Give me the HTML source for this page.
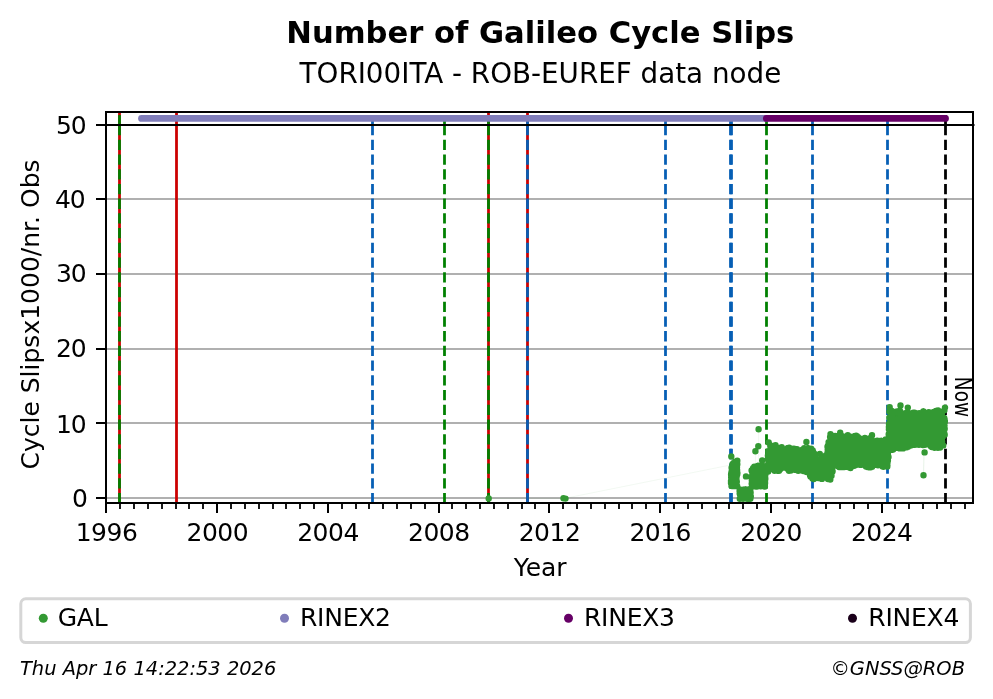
<!DOCTYPE html>
<html lang="en"><head><meta charset="utf-8"><title>Number of Galileo Cycle Slips</title>
<style>html,body{margin:0;padding:0;background:#fff}svg{display:block}</style></head>
<body>
<svg width="993" height="699" viewBox="0 0 993 699">
<rect width="993" height="699" fill="#fff"/>
<g stroke="#b0b0b0" stroke-width="2">
<line x1="106.0" x2="973.0" y1="498.0" y2="498.0"/>
<line x1="106.0" x2="973.0" y1="423.0" y2="423.0"/>
<line x1="106.0" x2="973.0" y1="349.0" y2="349.0"/>
<line x1="106.0" x2="973.0" y1="274.0" y2="274.0"/>
<line x1="106.0" x2="973.0" y1="199.0" y2="199.0"/>
<line x1="106.0" x2="973.0" y1="125.0" y2="125.0"/>
</g>
<line x1="119.5" x2="119.5" y1="503.3" y2="112.0" stroke="#cc0000" stroke-width="2.78"/>
<line x1="119.5" x2="119.5" y1="503.3" y2="125" stroke="#008000" stroke-width="2.78" stroke-dasharray="10.28 4.44"/>
<line x1="119.5" x2="119.5" y1="125.5" y2="115.1" stroke="#008000" stroke-width="2.78"/>
<line x1="176.5" x2="176.5" y1="503.3" y2="112.0" stroke="#cc0000" stroke-width="2.78"/>
<line x1="372.5" x2="372.5" y1="503.3" y2="125" stroke="#065fb5" stroke-width="2.78" stroke-dasharray="10.28 4.44"/>
<line x1="372.5" x2="372.5" y1="125.5" y2="115.1" stroke="#065fb5" stroke-width="2.78"/>
<line x1="444.5" x2="444.5" y1="503.3" y2="125" stroke="#008000" stroke-width="2.78" stroke-dasharray="10.28 4.44"/>
<line x1="444.5" x2="444.5" y1="125.5" y2="115.1" stroke="#008000" stroke-width="2.78"/>
<line x1="488.5" x2="488.5" y1="503.3" y2="112.0" stroke="#cc0000" stroke-width="2.78"/>
<line x1="488.5" x2="488.5" y1="503.3" y2="125" stroke="#008000" stroke-width="2.78" stroke-dasharray="10.28 4.44"/>
<line x1="488.5" x2="488.5" y1="125.5" y2="115.1" stroke="#008000" stroke-width="2.78"/>
<line x1="527.5" x2="527.5" y1="503.3" y2="112.0" stroke="#cc0000" stroke-width="2.78"/>
<line x1="527.5" x2="527.5" y1="503.3" y2="125" stroke="#065fb5" stroke-width="2.78" stroke-dasharray="10.28 4.44"/>
<line x1="527.5" x2="527.5" y1="125.5" y2="115.1" stroke="#065fb5" stroke-width="2.78"/>
<line x1="665.5" x2="665.5" y1="503.3" y2="125" stroke="#065fb5" stroke-width="2.78" stroke-dasharray="10.28 4.44"/>
<line x1="665.5" x2="665.5" y1="125.5" y2="115.1" stroke="#065fb5" stroke-width="2.78"/>
<line x1="730.5" x2="730.5" y1="503.3" y2="125" stroke="#065fb5" stroke-width="2.78" stroke-dasharray="10.28 4.44"/>
<line x1="730.5" x2="730.5" y1="125.5" y2="115.1" stroke="#065fb5" stroke-width="2.78"/>
<line x1="731.5" x2="731.5" y1="503.3" y2="125" stroke="#065fb5" stroke-width="2.78" stroke-dasharray="10.28 4.44"/>
<line x1="731.5" x2="731.5" y1="125.5" y2="115.1" stroke="#065fb5" stroke-width="2.78"/>
<line x1="766.5" x2="766.5" y1="503.3" y2="125" stroke="#008000" stroke-width="2.78" stroke-dasharray="10.28 4.44"/>
<line x1="766.5" x2="766.5" y1="125.5" y2="115.1" stroke="#008000" stroke-width="2.78"/>
<line x1="812.5" x2="812.5" y1="503.3" y2="125" stroke="#065fb5" stroke-width="2.78" stroke-dasharray="10.28 4.44"/>
<line x1="812.5" x2="812.5" y1="125.5" y2="115.1" stroke="#065fb5" stroke-width="2.78"/>
<line x1="887.5" x2="887.5" y1="503.3" y2="125" stroke="#065fb5" stroke-width="2.78" stroke-dasharray="10.28 4.44"/>
<line x1="887.5" x2="887.5" y1="125.5" y2="115.1" stroke="#065fb5" stroke-width="2.78"/>
<line x1="945.5" x2="945.5" y1="503.3" y2="125" stroke="#000" stroke-width="2.78" stroke-dasharray="10.28 4.44"/>
<line x1="945.5" x2="945.5" y1="125.5" y2="115.1" stroke="#000" stroke-width="2.78"/>
<line x1="106.0" x2="974.5" y1="125.0" y2="125.0" stroke="#000" stroke-width="2"/>
<g stroke="#339933" stroke-width="1" opacity="0.06" fill="none">
<polyline points="488.7,498.4 564.5,498.4 729,465.3"/>
<polyline points="758.6,429.3 758.6,470"/><polyline points="755.4,451 755.4,470"/>
<polyline points="924.6,440 924.6,452.4 923.5,475.2 923.5,440"/>
</g>
<polygon points="731.0,468.2 731.2,468.0 731.3,467.9 731.5,467.7 731.6,467.6 731.8,467.4 732.0,467.2 732.1,467.1 732.3,466.9 732.4,466.8 732.6,466.6 732.8,466.4 732.9,466.3 733.1,466.1 733.2,466.0 733.4,465.8 733.6,465.6 733.7,465.5 733.9,465.3 734.0,465.2 734.2,465.1 734.4,465.0 734.5,464.9 734.7,464.8 734.8,464.7 735.0,464.6 735.2,464.6 735.3,464.5 735.5,464.4 735.6,464.3 735.8,464.2 736.0,464.1 736.1,464.0 736.3,463.9 736.4,463.8 736.6,463.7 736.8,463.7 736.9,463.6 737.1,463.5 737.2,463.4 737.4,463.3 737.4,483.5 737.2,483.5 737.1,483.5 736.9,483.5 736.8,483.5 736.6,483.5 736.4,483.5 736.3,483.5 736.1,483.5 736.0,483.5 735.8,483.5 735.6,483.5 735.5,483.5 735.3,483.5 735.2,483.5 735.0,483.5 734.8,483.5 734.7,483.5 734.5,483.5 734.4,483.5 734.2,483.5 734.0,483.5 733.9,483.5 733.7,483.5 733.6,483.5 733.4,483.5 733.2,483.5 733.1,483.5 732.9,483.5 732.8,483.5 732.6,483.5 732.4,483.5 732.3,483.5 732.1,483.5 732.0,483.5 731.8,483.5 731.6,483.5 731.5,483.5 731.3,483.5 731.2,483.5 731.0,483.5" fill="#339933"/>
<polygon points="739.6,491.5 739.9,491.5 740.2,491.5 740.4,491.5 740.7,491.5 741.0,491.5 741.3,491.5 741.6,491.5 741.8,491.5 742.1,491.5 742.4,491.5 742.7,491.5 743.0,491.5 743.2,491.5 743.5,491.5 743.8,491.5 744.1,491.5 744.4,491.5 744.6,491.5 744.9,491.5 745.2,491.5 745.5,491.5 745.8,491.5 746.0,491.5 746.3,491.5 746.6,491.5 746.9,491.5 747.2,491.5 747.4,491.5 747.7,491.5 748.0,491.5 748.3,491.5 748.6,491.5 748.8,491.5 749.1,491.5 749.4,491.5 749.7,491.5 750.0,491.5 750.2,491.5 750.5,491.5 750.8,491.5 750.8,496.9 750.5,496.9 750.2,496.9 750.0,496.9 749.7,496.9 749.4,496.9 749.1,496.9 748.8,496.9 748.6,496.9 748.3,496.9 748.0,496.9 747.7,496.9 747.4,496.9 747.2,496.9 746.9,496.9 746.6,496.9 746.3,496.9 746.0,496.9 745.8,496.9 745.5,496.9 745.2,496.9 744.9,496.9 744.6,496.9 744.4,496.9 744.1,496.9 743.8,496.9 743.5,496.9 743.2,496.9 743.0,496.9 742.7,496.9 742.4,496.9 742.1,496.9 741.8,496.9 741.6,496.9 741.3,496.9 741.0,496.9 740.7,496.9 740.4,496.9 740.2,496.9 739.9,496.9 739.6,496.9" fill="#339933"/>
<polygon points="751.5,472.7 751.9,472.2 752.2,471.8 752.6,471.3 752.9,470.8 753.3,470.3 753.6,469.9 754.0,469.4 754.3,468.9 754.7,468.7 755.0,468.6 755.4,468.6 755.7,468.5 756.1,468.5 756.4,468.4 756.8,468.4 757.1,468.3 757.5,468.3 757.8,468.2 758.2,468.2 758.5,468.2 758.9,468.1 759.3,468.1 759.6,468.0 760.0,468.0 760.3,467.9 760.7,467.9 761.0,467.8 761.4,467.8 761.7,467.7 762.1,467.7 762.4,467.6 762.8,467.6 763.1,467.5 763.5,467.5 763.8,467.4 764.2,467.4 764.5,467.3 764.9,467.3 765.2,467.2 765.6,467.2 765.6,484.1 765.2,484.1 764.9,484.1 764.5,484.1 764.2,484.1 763.8,484.1 763.5,484.1 763.1,484.1 762.8,484.1 762.4,484.1 762.1,484.1 761.7,484.1 761.4,484.1 761.0,484.1 760.7,484.1 760.3,484.1 760.0,484.1 759.6,484.1 759.3,484.1 758.9,484.1 758.5,484.1 758.2,484.1 757.8,484.1 757.5,484.1 757.1,484.1 756.8,484.1 756.4,484.1 756.1,484.1 755.7,484.1 755.4,484.1 755.0,484.1 754.7,484.1 754.3,484.1 754.0,484.1 753.6,484.1 753.3,484.1 752.9,484.1 752.6,484.1 752.2,484.1 751.9,484.1 751.5,484.1" fill="#339933"/>
<polygon points="767.8,448.2 770.8,448.7 773.8,448.1 776.9,448.3 779.9,449.7 782.9,449.3 785.9,448.9 788.9,449.9 792.0,450.9 795.0,451.2 798.0,451.5 801.0,450.0 804.0,450.1 807.1,450.5 810.1,451.2 813.1,454.0 816.1,458.0 819.1,458.2 822.2,459.8 825.2,457.0 828.2,446.6 831.2,439.8 834.2,438.9 837.3,438.3 840.3,437.7 843.3,437.5 846.3,437.2 849.3,439.0 852.4,439.0 855.4,438.3 858.4,438.7 861.4,439.3 864.4,440.4 867.5,441.3 870.5,440.9 873.5,441.5 876.5,443.0 879.5,443.5 882.6,442.6 885.6,440.7 888.6,440.7 888.6,463.8 885.6,464.1 882.6,464.0 879.5,463.7 876.5,463.4 873.5,464.0 870.5,464.6 867.5,464.5 864.4,463.0 861.4,462.4 858.4,461.9 855.4,462.6 852.4,463.6 849.3,464.3 846.3,464.2 843.3,464.2 840.3,464.2 837.3,464.6 834.2,465.5 831.2,474.1 828.2,477.8 825.2,478.6 822.2,476.7 819.1,475.4 816.1,476.1 813.1,476.4 810.1,473.4 807.1,470.4 804.0,468.9 801.0,467.5 798.0,468.4 795.0,468.8 792.0,468.3 788.9,468.3 785.9,468.5 782.9,468.6 779.9,468.4 776.9,468.3 773.8,468.4 770.8,468.7 767.8,469.0" fill="#339933"/>
<polygon points="888.6,415.8 890.0,413.7 891.4,414.0 892.8,414.3 894.2,414.5 895.6,414.6 897.0,414.3 898.5,414.0 899.9,413.7 901.3,414.0 902.7,414.2 904.1,414.5 905.5,414.8 906.9,415.2 908.3,415.5 909.7,415.8 911.1,416.2 912.5,416.0 913.9,415.0 915.3,413.9 916.8,413.3 918.2,413.5 919.6,413.6 921.0,413.8 922.4,414.0 923.8,414.3 925.2,414.5 926.6,414.7 928.0,414.9 929.4,415.2 930.8,415.4 932.2,415.4 933.6,414.9 935.0,414.3 936.5,413.8 937.9,413.5 939.3,413.2 940.7,413.0 942.1,413.1 943.5,413.1 944.9,413.2 944.9,443.4 943.5,444.0 942.1,444.2 940.7,444.4 939.3,444.7 937.9,444.8 936.5,444.8 935.0,444.8 933.6,444.8 932.2,444.5 930.8,443.5 929.4,442.4 928.0,441.6 926.6,441.8 925.2,441.9 923.8,442.1 922.4,442.2 921.0,442.2 919.6,442.0 918.2,441.9 916.8,441.7 915.3,441.8 913.9,442.1 912.5,442.4 911.1,442.7 909.7,443.1 908.3,443.8 906.9,444.6 905.5,445.3 904.1,446.0 902.7,445.8 901.3,445.6 899.9,445.4 898.5,445.2 897.0,445.0 895.6,444.8 894.2,445.7 892.8,446.5 891.4,447.3 890.0,447.3 888.6,447.3" fill="#339933"/>
<path d="M731.0 481.0h0M731.0 483.0h0M731.1 474.4h0M731.2 477.4h0M731.2 473.6h0M731.2 476.7h0M731.3 477.2h0M731.3 472.9h0M731.4 483.4h0M731.4 473.0h0M731.5 485.9h0M731.5 479.2h0M731.6 479.6h0M731.6 479.2h0M731.6 467.7h0M731.7 471.1h0M731.8 477.5h0M731.8 476.3h0M731.9 470.4h0M731.9 477.8h0M731.9 471.9h0M732.0 486.0h0M732.0 468.3h0M732.1 471.7h0M732.1 471.0h0M732.1 486.0h0M732.2 475.4h0M732.3 471.5h0M732.3 469.8h0M732.4 465.5h0M732.4 471.2h0M732.4 484.5h0M732.5 464.2h0M732.6 478.5h0M732.6 473.9h0M732.6 473.0h0M732.7 486.0h0M732.7 474.5h0M732.8 474.3h0M732.8 473.7h0M732.8 476.7h0M732.9 476.5h0M732.9 475.0h0M733.0 481.6h0M733.0 466.7h0M733.1 477.5h0M733.1 478.4h0M733.2 470.6h0M733.2 486.0h0M733.2 463.4h0M733.3 475.3h0M733.4 479.7h0M733.4 474.6h0M733.4 475.3h0M733.5 463.2h0M733.5 467.6h0M733.6 466.8h0M733.6 467.5h0M733.7 477.2h0M733.7 462.9h0M733.8 471.8h0M733.8 476.4h0M733.8 478.8h0M733.9 476.4h0M733.9 474.5h0M734.0 474.4h0M734.0 473.3h0M734.1 475.5h0M734.1 477.5h0M734.2 478.7h0M734.2 484.2h0M734.3 484.0h0M734.3 471.2h0M734.3 474.6h0M734.4 473.0h0M734.4 486.1h0M734.5 482.6h0M734.5 471.5h0M734.6 482.9h0M734.7 475.7h0M734.7 472.3h0M734.7 468.8h0M734.8 475.4h0M734.8 465.3h0M734.9 476.3h0M734.9 486.1h0M735.0 478.7h0M735.0 462.0h0M735.0 467.3h0M735.1 473.3h0M735.1 473.0h0M735.2 479.6h0M735.2 461.9h0M735.3 479.6h0M735.3 470.6h0M735.4 477.9h0M735.4 476.9h0M735.5 483.8h0M735.5 463.3h0M735.6 475.3h0M735.6 465.3h0M735.7 461.7h0M735.7 469.3h0M735.7 474.5h0M735.8 480.1h0M735.8 461.6h0M735.9 485.1h0M735.9 469.9h0M735.9 483.2h0M736.0 486.1h0M736.0 483.5h0M736.1 461.4h0M736.1 470.0h0M736.2 472.5h0M736.3 468.3h0M736.3 466.3h0M736.3 483.5h0M736.4 463.5h0M736.4 472.2h0M736.5 479.1h0M736.5 470.1h0M736.6 475.6h0M736.6 463.9h0M736.7 476.2h0M736.7 481.4h0M736.7 469.1h0M736.8 481.7h0M736.8 474.5h0M736.9 475.0h0M736.9 469.1h0M737.0 467.1h0M737.0 471.1h0M737.1 474.3h0M737.1 469.9h0M737.1 471.2h0M737.2 486.2h0M737.2 474.5h0M737.3 460.7h0M737.3 464.2h0M737.4 473.1h0M739.6 491.1h0M739.7 493.5h0M739.8 498.8h0M739.8 489.6h0M739.9 498.8h0M740.0 492.3h0M740.0 493.2h0M740.1 494.6h0M740.2 491.8h0M740.3 489.9h0M740.3 493.3h0M740.4 490.2h0M740.5 496.1h0M740.6 493.8h0M740.6 489.6h0M740.7 494.9h0M740.8 491.1h0M740.8 495.6h0M740.9 492.3h0M741.0 498.3h0M741.1 493.7h0M741.1 494.4h0M741.2 493.2h0M741.3 494.1h0M741.4 495.5h0M741.4 494.0h0M741.5 494.6h0M741.5 492.0h0M741.6 498.6h0M741.7 491.5h0M741.8 497.4h0M741.9 492.4h0M741.9 498.2h0M742.0 495.7h0M742.0 497.9h0M742.2 492.7h0M742.2 494.8h0M742.3 493.4h0M742.4 492.3h0M742.5 497.2h0M742.5 496.6h0M742.6 496.7h0M742.6 494.7h0M742.7 495.0h0M742.8 492.6h0M742.9 498.6h0M742.9 495.3h0M743.0 496.5h0M743.1 498.7h0M743.2 494.6h0M743.2 489.6h0M743.3 495.2h0M743.4 491.2h0M743.5 495.6h0M743.5 489.9h0M743.6 494.0h0M743.6 496.4h0M743.7 490.4h0M743.8 493.7h0M743.8 495.0h0M743.9 494.1h0M744.0 492.1h0M744.1 497.3h0M744.2 489.6h0M744.2 494.3h0M744.3 496.5h0M744.3 492.1h0M744.5 494.9h0M744.6 492.2h0M744.6 493.6h0M744.6 494.1h0M744.7 494.3h0M744.8 492.3h0M744.9 494.2h0M744.9 494.1h0M745.0 495.4h0M745.1 496.6h0M745.1 494.5h0M745.2 489.6h0M745.3 493.3h0M745.4 496.2h0M745.4 492.3h0M745.6 496.9h0M745.6 497.8h0M745.6 497.2h0M745.7 489.6h0M745.8 494.8h0M745.9 492.8h0M746.0 496.8h0M746.0 489.8h0M746.1 497.5h0M746.2 491.6h0M746.2 495.7h0M746.3 494.5h0M746.4 496.0h0M746.5 491.1h0M746.5 492.8h0M746.6 491.3h0M746.7 494.2h0M746.7 490.9h0M746.8 498.4h0M746.9 496.0h0M746.9 493.8h0M747.0 498.7h0M747.1 497.4h0M747.2 493.7h0M747.2 492.3h0M747.3 489.8h0M747.4 495.6h0M747.4 494.9h0M747.6 493.0h0M747.6 497.6h0M747.6 493.7h0M747.8 498.4h0M747.8 493.3h0M747.9 497.5h0M748.0 498.6h0M748.0 498.2h0M748.1 494.7h0M748.2 494.0h0M748.3 497.2h0M748.3 493.6h0M748.4 496.0h0M748.5 493.6h0M748.5 489.6h0M748.6 493.2h0M748.7 489.6h0M748.8 493.9h0M748.8 496.8h0M748.9 492.3h0M748.9 491.1h0M749.0 494.4h0M749.1 492.8h0M749.2 496.2h0M749.2 494.2h0M749.3 489.6h0M749.4 492.8h0M749.5 489.6h0M749.5 489.6h0M749.6 498.8h0M749.7 492.2h0M749.7 495.2h0M749.8 495.4h0M749.9 492.2h0M750.0 493.9h0M750.0 497.5h0M750.1 498.8h0M750.2 492.6h0M750.3 498.8h0M750.3 490.8h0M750.4 498.5h0M750.5 495.6h0M750.6 492.8h0M750.6 492.4h0M750.7 496.4h0M750.8 496.5h0M751.5 477.5h0M751.6 470.4h0M751.7 476.5h0M751.7 483.8h0M751.8 479.9h0M751.9 480.9h0M751.9 480.0h0M752.0 486.3h0M752.0 480.0h0M752.1 480.4h0M752.1 480.9h0M752.2 479.8h0M752.3 484.0h0M752.3 472.6h0M752.4 473.1h0M752.5 477.0h0M752.5 475.5h0M752.6 486.3h0M752.7 470.8h0M752.7 470.3h0M752.8 477.6h0M752.8 482.6h0M752.9 483.5h0M752.9 469.0h0M753.0 474.7h0M753.1 468.3h0M753.2 482.5h0M753.3 477.2h0M753.3 485.8h0M753.3 468.0h0M753.4 480.8h0M753.5 482.4h0M753.6 475.7h0M753.6 469.3h0M753.7 475.5h0M753.7 476.4h0M753.8 483.8h0M753.8 473.0h0M753.9 476.7h0M754.0 484.6h0M754.0 482.8h0M754.1 479.6h0M754.2 477.9h0M754.2 484.1h0M754.3 466.6h0M754.4 480.0h0M754.4 472.3h0M754.5 477.1h0M754.6 475.0h0M754.6 471.7h0M754.7 473.6h0M754.7 471.0h0M754.8 480.1h0M754.8 474.5h0M754.9 468.7h0M755.0 480.6h0M755.1 475.9h0M755.1 469.5h0M755.2 472.3h0M755.2 486.3h0M755.3 476.7h0M755.4 471.5h0M755.4 477.9h0M755.5 480.1h0M755.6 479.4h0M755.6 475.3h0M755.6 479.5h0M755.7 475.8h0M755.8 466.6h0M755.9 484.0h0M755.9 486.5h0M756.0 476.1h0M756.0 485.2h0M756.1 472.5h0M756.2 472.2h0M756.2 480.2h0M756.3 481.0h0M756.3 476.4h0M756.4 486.5h0M756.5 486.5h0M756.5 481.0h0M756.6 466.5h0M756.6 470.7h0M756.8 477.2h0M756.8 468.0h0M756.8 485.6h0M756.9 480.0h0M757.0 467.0h0M757.0 486.5h0M757.1 481.3h0M757.2 480.5h0M757.2 473.0h0M757.3 472.8h0M757.4 473.1h0M757.4 476.1h0M757.5 476.7h0M757.6 466.8h0M757.6 465.9h0M757.7 465.9h0M757.8 478.5h0M757.8 476.1h0M757.9 482.4h0M758.0 480.5h0M758.0 485.9h0M758.1 477.3h0M758.1 468.2h0M758.2 469.5h0M758.2 484.0h0M758.3 476.2h0M758.3 471.7h0M758.4 471.2h0M758.5 474.4h0M758.6 480.8h0M758.6 475.8h0M758.7 466.8h0M758.7 476.2h0M758.8 469.0h0M758.9 480.2h0M758.9 481.1h0M759.0 468.9h0M759.1 474.0h0M759.1 483.5h0M759.2 477.5h0M759.2 480.3h0M759.3 481.9h0M759.4 470.9h0M759.4 483.1h0M759.5 475.7h0M759.6 465.6h0M759.6 465.6h0M759.7 480.9h0M759.8 465.7h0M759.8 475.2h0M759.8 478.9h0M760.0 465.6h0M760.0 469.1h0M760.1 471.6h0M760.1 477.5h0M760.2 482.4h0M760.2 481.0h0M760.3 473.8h0M760.3 478.4h0M760.4 468.9h0M760.5 470.9h0M760.5 471.8h0M760.6 484.0h0M760.7 479.1h0M760.7 486.2h0M760.8 480.8h0M760.9 479.6h0M760.9 479.0h0M761.0 477.9h0M761.1 474.9h0M761.1 481.0h0M761.2 470.8h0M761.2 473.6h0M761.3 481.7h0M761.4 475.8h0M761.4 476.1h0M761.5 476.6h0M761.6 478.6h0M761.6 470.3h0M761.7 476.5h0M761.7 476.8h0M761.8 478.1h0M761.9 474.5h0M761.9 472.5h0M762.0 475.8h0M762.1 478.5h0M762.1 474.6h0M762.2 479.8h0M762.2 475.0h0M762.3 482.8h0M762.3 474.8h0M762.5 465.8h0M762.5 484.4h0M762.6 481.6h0M762.6 484.9h0M762.7 482.4h0M762.7 466.4h0M762.8 469.9h0M762.9 480.2h0M762.9 476.0h0M763.0 485.6h0M763.0 466.3h0M763.1 471.9h0M763.2 481.9h0M763.3 481.4h0M763.3 473.6h0M763.4 481.8h0M763.4 472.2h0M763.5 470.2h0M763.5 470.6h0M763.6 471.0h0M763.7 477.1h0M763.7 469.1h0M763.8 478.3h0M763.9 477.8h0M763.9 468.9h0M764.0 478.4h0M764.1 484.5h0M764.1 480.7h0M764.2 482.6h0M764.2 478.2h0M764.3 483.7h0M764.4 484.9h0M764.5 477.3h0M764.5 472.0h0M764.6 486.5h0M764.6 472.0h0M764.7 477.8h0M764.7 474.7h0M764.8 482.8h0M764.9 486.5h0M765.0 480.2h0M765.0 481.4h0M765.0 475.1h0M765.1 483.0h0M765.2 477.2h0M765.3 479.0h0M765.3 478.7h0M765.4 473.4h0M765.4 467.0h0M765.5 474.0h0M765.6 467.9h0M767.9 455.6h0M767.9 468.2h0M768.0 458.2h0M768.1 456.7h0M768.2 471.5h0M768.2 459.3h0M768.3 451.3h0M768.4 470.6h0M768.5 462.4h0M768.6 467.5h0M768.7 457.7h0M768.7 460.4h0M768.8 458.7h0M768.9 451.3h0M769.0 462.0h0M769.1 460.0h0M769.1 468.3h0M769.2 456.7h0M769.3 461.2h0M769.4 450.9h0M769.5 454.2h0M769.6 455.1h0M769.7 459.2h0M769.7 460.4h0M769.9 461.1h0M770.0 460.0h0M770.0 452.1h0M770.1 453.4h0M770.2 451.9h0M770.3 446.1h0M770.4 464.1h0M770.4 460.3h0M770.5 457.5h0M770.6 458.9h0M770.7 461.0h0M770.7 446.2h0M770.8 453.8h0M770.9 452.6h0M771.0 453.8h0M771.1 461.3h0M771.2 463.7h0M771.2 467.5h0M771.4 451.3h0M771.4 464.7h0M771.5 449.6h0M771.6 454.1h0M771.6 460.0h0M771.7 464.4h0M771.9 460.0h0M771.9 464.4h0M772.0 449.9h0M772.1 447.8h0M772.2 463.1h0M772.2 447.8h0M772.3 445.9h0M772.5 463.6h0M772.5 458.9h0M772.6 468.7h0M772.7 454.7h0M772.8 456.1h0M772.9 462.7h0M772.9 454.9h0M773.1 449.2h0M773.1 463.8h0M773.2 449.7h0M773.3 457.0h0M773.3 449.8h0M773.4 456.4h0M773.5 456.4h0M773.6 461.4h0M773.7 458.8h0M773.7 459.3h0M773.8 459.5h0M773.9 451.4h0M774.0 450.5h0M774.1 452.9h0M774.2 454.8h0M774.3 460.1h0M774.4 456.6h0M774.5 461.1h0M774.5 457.1h0M774.6 470.8h0M774.7 460.9h0M774.8 462.4h0M774.8 449.7h0M774.9 467.3h0M775.0 464.6h0M775.1 456.8h0M775.2 458.7h0M775.2 456.7h0M775.3 451.7h0M775.5 445.2h0M775.5 457.7h0M775.6 451.8h0M775.7 461.7h0M775.7 455.6h0M775.8 450.0h0M776.0 468.4h0M776.0 464.7h0M776.1 461.4h0M776.2 468.9h0M776.2 450.4h0M776.4 458.6h0M776.4 452.0h0M776.5 458.4h0M776.6 463.2h0M776.7 456.3h0M776.8 455.1h0M776.9 458.3h0M776.9 460.7h0M777.0 448.5h0M777.1 454.3h0M777.2 463.6h0M777.3 470.1h0M777.3 465.4h0M777.4 457.3h0M777.5 470.8h0M777.6 462.0h0M777.7 455.3h0M777.8 458.8h0M777.9 447.8h0M777.9 456.8h0M778.0 461.9h0M778.1 458.4h0M778.2 454.7h0M778.3 455.7h0M778.3 457.1h0M778.5 459.0h0M778.5 462.8h0M778.6 460.8h0M778.7 455.7h0M778.7 455.2h0M778.8 465.6h0M778.9 465.2h0M779.0 470.8h0M779.1 461.7h0M779.2 458.2h0M779.3 461.8h0M779.3 449.2h0M779.4 457.0h0M779.5 456.7h0M779.6 465.1h0M779.7 460.4h0M779.8 450.3h0M779.8 459.0h0M779.9 454.1h0M780.0 455.3h0M780.1 451.9h0M780.2 462.6h0M780.3 460.5h0M780.4 468.9h0M780.5 455.5h0M780.5 447.8h0M780.6 454.1h0M780.7 460.7h0M780.7 449.8h0M780.9 464.4h0M780.9 459.2h0M781.0 465.6h0M781.1 451.3h0M781.2 464.1h0M781.2 453.0h0M781.3 450.2h0M781.4 460.8h0M781.5 458.8h0M781.6 462.0h0M781.7 447.2h0M781.7 452.1h0M781.9 455.5h0M781.9 451.5h0M782.0 450.0h0M782.1 463.1h0M782.2 457.6h0M782.3 459.3h0M782.4 455.8h0M782.4 463.7h0M782.5 460.7h0M782.6 453.2h0M782.7 462.2h0M782.8 458.5h0M782.9 463.5h0M783.0 454.5h0M783.0 458.2h0M783.1 459.7h0M783.2 462.2h0M783.3 454.1h0M783.4 453.5h0M783.4 464.7h0M783.5 457.5h0M783.6 461.8h0M783.7 452.3h0M783.8 467.4h0M783.8 467.5h0M784.0 458.1h0M784.0 465.0h0M784.1 459.0h0M784.2 459.2h0M784.2 458.9h0M784.3 464.2h0M784.4 452.6h0M784.5 451.5h0M784.6 460.1h0M784.7 456.9h0M784.8 459.4h0M784.9 455.2h0M784.9 459.6h0M785.1 458.7h0M785.1 458.6h0M785.2 461.6h0M785.2 459.6h0M785.3 452.7h0M785.5 459.7h0M785.5 454.9h0M785.6 460.5h0M785.7 449.3h0M785.8 461.0h0M785.9 455.1h0M785.9 458.4h0M786.0 451.8h0M786.1 458.3h0M786.2 463.4h0M786.3 465.5h0M786.3 461.3h0M786.4 450.8h0M786.5 458.9h0M786.6 462.7h0M786.7 452.8h0M786.8 462.1h0M786.8 453.7h0M787.0 466.9h0M787.0 463.0h0M787.1 451.5h0M787.2 452.8h0M787.3 466.4h0M787.3 458.1h0M787.5 468.7h0M787.5 461.0h0M787.6 462.8h0M787.7 454.4h0M787.8 459.5h0M787.8 454.7h0M787.9 448.0h0M788.0 455.1h0M788.1 453.0h0M788.2 463.2h0M788.3 467.9h0M788.4 457.7h0M788.4 456.9h0M788.5 463.8h0M788.6 459.5h0M788.7 457.4h0M788.8 457.2h0M788.8 458.6h0M788.9 464.2h0M789.0 470.7h0M789.1 462.4h0M789.2 447.6h0M789.3 452.6h0M789.4 452.5h0M789.4 461.3h0M789.5 467.9h0M789.6 462.3h0M789.6 461.5h0M789.8 466.8h0M789.8 454.8h0M790.0 461.0h0M790.0 451.8h0M790.1 454.7h0M790.2 461.8h0M790.3 461.2h0M790.4 458.5h0M790.4 467.3h0M790.5 466.7h0M790.6 458.4h0M790.7 459.7h0M790.8 470.6h0M790.8 453.1h0M790.9 466.2h0M791.0 464.5h0M791.1 460.0h0M791.2 459.5h0M791.2 461.9h0M791.4 459.0h0M791.4 468.7h0M791.5 460.5h0M791.6 460.2h0M791.7 461.3h0M791.8 465.3h0M791.8 452.1h0M791.9 457.9h0M792.1 453.3h0M792.1 468.6h0M792.1 457.5h0M792.2 453.3h0M792.3 450.9h0M792.4 459.2h0M792.5 456.2h0M792.6 464.9h0M792.7 461.7h0M792.8 458.2h0M792.9 456.8h0M792.9 454.7h0M793.0 453.2h0M793.1 462.9h0M793.2 448.6h0M793.3 459.2h0M793.4 461.8h0M793.5 462.2h0M793.5 455.2h0M793.6 463.7h0M793.7 452.9h0M793.8 464.2h0M793.9 456.2h0M793.9 468.3h0M794.0 453.4h0M794.1 459.4h0M794.2 466.0h0M794.3 461.2h0M794.4 458.8h0M794.5 465.1h0M794.5 454.3h0M794.6 463.1h0M794.7 451.6h0M794.8 466.4h0M794.9 463.8h0M794.9 460.0h0M795.0 448.9h0M795.1 457.2h0M795.2 454.1h0M795.2 460.1h0M795.3 449.7h0M795.4 463.6h0M795.5 450.6h0M795.6 469.9h0M795.7 452.7h0M795.8 456.9h0M795.8 458.1h0M795.9 458.5h0M796.0 454.8h0M796.1 456.9h0M796.1 459.8h0M796.3 458.2h0M796.4 462.2h0M796.5 464.6h0M796.5 466.7h0M796.6 461.7h0M796.7 460.3h0M796.8 452.6h0M796.8 460.8h0M797.0 449.1h0M797.0 466.4h0M797.1 464.4h0M797.1 459.1h0M797.2 461.1h0M797.3 462.3h0M797.4 464.4h0M797.6 455.5h0M797.6 467.1h0M797.7 463.1h0M797.7 464.3h0M797.9 458.9h0M797.9 468.1h0M798.0 457.6h0M798.1 467.8h0M798.2 470.7h0M798.2 464.1h0M798.3 460.8h0M798.5 468.7h0M798.5 453.6h0M798.6 457.6h0M798.7 451.6h0M798.7 465.5h0M798.9 467.1h0M799.0 457.2h0M799.0 466.8h0M799.1 457.5h0M799.2 463.4h0M799.3 461.5h0M799.3 463.1h0M799.5 468.4h0M799.5 460.0h0M799.6 462.9h0M799.7 457.4h0M799.8 461.6h0M799.9 457.1h0M799.9 469.1h0M800.0 454.3h0M800.1 453.3h0M800.2 468.1h0M800.3 461.5h0M800.3 462.2h0M800.5 455.8h0M800.6 457.8h0M800.6 456.0h0M800.7 460.6h0M800.8 457.0h0M800.9 461.8h0M800.9 461.1h0M801.1 457.1h0M801.1 465.6h0M801.2 453.4h0M801.3 457.8h0M801.3 463.2h0M801.4 470.0h0M801.6 457.7h0M801.6 455.8h0M801.7 470.2h0M801.8 454.5h0M801.8 470.2h0M802.0 457.2h0M802.0 461.7h0M802.1 455.2h0M802.2 458.4h0M802.3 460.6h0M802.3 466.8h0M802.4 460.3h0M802.5 449.7h0M802.6 466.2h0M802.7 463.5h0M802.8 461.5h0M802.9 467.3h0M803.0 455.7h0M803.0 457.2h0M803.1 451.1h0M803.2 464.6h0M803.3 453.3h0M803.4 469.5h0M803.4 471.1h0M803.5 460.7h0M803.6 459.0h0M803.7 463.4h0M803.8 462.5h0M803.9 464.6h0M803.9 452.8h0M804.0 458.7h0M804.1 457.0h0M804.2 448.3h0M804.3 458.1h0M804.4 453.7h0M804.4 470.5h0M804.5 448.5h0M804.6 452.0h0M804.7 458.2h0M804.8 460.4h0M804.8 463.7h0M804.9 460.4h0M805.0 458.4h0M805.1 460.2h0M805.2 461.0h0M805.3 450.0h0M805.3 458.4h0M805.5 459.5h0M805.5 458.0h0M805.6 454.7h0M805.7 459.9h0M805.8 465.6h0M805.9 466.6h0M805.9 450.4h0M806.0 455.3h0M806.1 466.1h0M806.2 457.7h0M806.3 453.7h0M806.4 459.2h0M806.5 457.7h0M806.5 464.4h0M806.6 472.0h0M806.7 458.9h0M806.8 461.6h0M806.9 458.6h0M807.0 465.0h0M807.0 458.4h0M807.1 455.1h0M807.2 466.6h0M807.3 459.2h0M807.3 460.5h0M807.5 463.3h0M807.5 448.1h0M807.6 471.1h0M807.7 451.6h0M807.8 459.9h0M807.8 471.0h0M807.9 469.3h0M808.0 456.7h0M808.1 448.2h0M808.2 467.8h0M808.3 459.1h0M808.4 458.4h0M808.5 455.9h0M808.5 460.8h0M808.6 463.5h0M808.7 464.2h0M808.8 456.7h0M808.8 464.7h0M808.9 448.8h0M809.0 457.8h0M809.1 458.9h0M809.2 457.9h0M809.3 452.5h0M809.4 458.9h0M809.4 462.1h0M809.5 466.9h0M809.6 461.0h0M809.7 461.5h0M809.8 462.8h0M809.9 471.2h0M809.9 468.2h0M810.0 461.8h0M810.1 475.6h0M810.2 468.3h0M810.2 456.4h0M810.4 467.5h0M810.4 465.3h0M810.5 476.4h0M810.6 459.0h0M810.7 468.5h0M810.8 470.7h0M810.9 451.7h0M811.0 462.3h0M811.0 450.4h0M811.1 458.7h0M811.2 448.8h0M811.3 475.8h0M811.4 463.4h0M811.4 472.6h0M811.5 460.9h0M811.6 470.4h0M811.7 455.9h0M811.8 451.6h0M811.8 466.5h0M811.9 456.4h0M812.0 461.0h0M812.1 468.9h0M812.2 456.7h0M812.3 462.5h0M812.4 468.0h0M812.5 478.4h0M812.5 473.1h0M812.6 474.3h0M812.7 450.5h0M812.8 465.6h0M812.8 464.2h0M812.9 451.1h0M813.0 465.4h0M813.1 474.0h0M813.2 465.2h0M813.3 460.2h0M813.4 469.9h0M813.4 475.9h0M813.5 462.4h0M813.6 460.8h0M813.7 471.0h0M813.8 479.1h0M813.9 453.8h0M813.9 453.1h0M814.0 453.2h0M814.1 468.0h0M814.2 462.6h0M814.3 470.1h0M814.3 459.4h0M814.5 462.1h0M814.6 455.5h0M814.6 463.5h0M814.7 468.6h0M814.8 462.8h0M814.8 466.8h0M815.0 462.4h0M815.1 463.6h0M815.1 473.2h0M815.2 468.8h0M815.3 466.9h0M815.3 466.6h0M815.5 459.3h0M815.5 462.4h0M815.6 462.6h0M815.7 465.5h0M815.8 475.0h0M815.9 466.9h0M815.9 472.7h0M816.0 475.6h0M816.1 470.6h0M816.2 473.5h0M816.3 467.8h0M816.3 465.0h0M816.5 462.8h0M816.5 475.6h0M816.6 466.7h0M816.7 469.7h0M816.8 463.2h0M816.9 472.3h0M816.9 473.1h0M817.1 462.0h0M817.1 463.7h0M817.2 463.9h0M817.3 470.1h0M817.4 462.8h0M817.5 464.3h0M817.6 474.5h0M817.6 471.1h0M817.7 465.5h0M817.8 467.8h0M817.9 471.9h0M817.9 468.0h0M818.0 462.6h0M818.1 472.9h0M818.2 478.0h0M818.3 472.3h0M818.4 471.6h0M818.4 469.6h0M818.6 468.0h0M818.6 466.9h0M818.7 470.6h0M818.8 475.2h0M818.8 468.7h0M818.9 466.1h0M819.0 464.3h0M819.1 471.1h0M819.2 471.2h0M819.3 469.6h0M819.4 471.3h0M819.4 470.5h0M819.6 465.7h0M819.6 467.6h0M819.7 472.9h0M819.8 465.9h0M819.9 477.6h0M819.9 467.0h0M820.0 474.7h0M820.1 471.8h0M820.2 471.7h0M820.3 467.8h0M820.4 461.5h0M820.5 465.0h0M820.5 472.4h0M820.6 470.2h0M820.7 463.3h0M820.7 462.3h0M820.9 465.3h0M820.9 471.9h0M821.0 469.5h0M821.1 466.6h0M821.2 463.1h0M821.3 469.5h0M821.4 456.9h0M821.4 467.5h0M821.5 469.2h0M821.6 464.4h0M821.7 472.7h0M821.8 468.1h0M821.9 478.9h0M822.0 469.3h0M822.1 470.7h0M822.1 467.9h0M822.2 466.7h0M822.3 469.9h0M822.4 473.0h0M822.4 465.4h0M822.5 476.0h0M822.6 460.4h0M822.7 464.7h0M822.8 466.5h0M822.8 463.9h0M823.0 469.5h0M823.0 464.1h0M823.1 467.2h0M823.2 467.5h0M823.2 469.6h0M823.4 464.6h0M823.5 476.4h0M823.5 473.3h0M823.6 470.8h0M823.7 464.0h0M823.8 456.5h0M823.9 475.0h0M824.0 472.6h0M824.0 460.5h0M824.1 466.1h0M824.2 461.8h0M824.3 475.8h0M824.3 476.1h0M824.5 469.9h0M824.5 463.2h0M824.7 462.6h0M824.7 461.6h0M824.7 463.6h0M824.8 473.4h0M824.9 475.0h0M825.0 476.1h0M825.1 468.3h0M825.2 476.3h0M825.3 464.2h0M825.4 472.6h0M825.4 461.8h0M825.6 465.1h0M825.6 467.9h0M825.7 463.1h0M825.8 455.4h0M825.9 470.6h0M825.9 465.8h0M826.0 474.4h0M826.1 466.5h0M826.2 472.2h0M826.3 472.2h0M826.4 471.3h0M826.4 468.1h0M826.5 469.1h0M826.7 466.1h0M826.7 462.5h0M826.8 462.0h0M826.9 464.0h0M826.9 469.2h0M827.0 475.1h0M827.2 457.3h0M827.2 454.9h0M827.3 464.4h0M827.3 471.0h0M827.4 466.8h0M827.5 446.8h0M827.6 452.3h0M827.7 449.6h0M827.8 467.1h0M827.9 445.6h0M827.9 469.9h0M828.0 479.0h0M828.1 453.6h0M828.2 459.1h0M828.3 474.3h0M828.4 465.0h0M828.5 455.5h0M828.6 442.1h0M828.6 455.3h0M828.7 461.1h0M828.8 474.6h0M828.8 468.4h0M828.9 465.0h0M829.0 459.6h0M829.1 466.3h0M829.2 475.9h0M829.3 471.4h0M829.4 444.8h0M829.4 452.7h0M829.5 448.2h0M829.6 444.2h0M829.7 465.1h0M829.8 463.5h0M829.9 466.7h0M830.0 454.2h0M830.0 464.4h0M830.1 437.0h0M830.2 465.6h0M830.3 479.5h0M830.4 453.6h0M830.5 473.8h0M830.5 464.3h0M830.6 436.8h0M830.7 446.1h0M830.8 454.9h0M830.9 467.4h0M830.9 463.9h0M831.0 472.6h0M831.1 451.7h0M831.2 448.3h0M831.3 443.4h0M831.4 454.1h0M831.4 465.8h0M831.5 475.8h0M831.6 461.2h0M831.7 450.0h0M831.8 455.5h0M831.9 466.9h0M831.9 451.0h0M832.0 453.0h0M832.1 463.4h0M832.2 459.5h0M832.3 462.3h0M832.4 445.3h0M832.5 471.5h0M832.6 471.1h0M832.6 458.1h0M832.7 445.7h0M832.8 439.2h0M832.8 447.3h0M833.0 458.7h0M833.0 454.9h0M833.1 447.7h0M833.2 449.2h0M833.3 436.6h0M833.4 460.4h0M833.5 436.4h0M833.6 445.1h0M833.6 452.2h0M833.7 444.6h0M833.8 454.3h0M833.9 448.5h0M834.0 465.1h0M834.0 447.9h0M834.1 460.9h0M834.2 458.4h0M834.3 463.5h0M834.3 446.5h0M834.4 436.9h0M834.5 457.4h0M834.6 456.2h0M834.7 452.6h0M834.8 445.5h0M834.9 449.7h0M834.9 462.6h0M835.0 465.5h0M835.1 459.3h0M835.2 436.0h0M835.3 457.7h0M835.4 460.0h0M835.5 457.1h0M835.6 453.1h0M835.6 444.4h0M835.7 457.8h0M835.8 438.4h0M835.9 462.4h0M835.9 449.0h0M836.1 456.9h0M836.1 456.7h0M836.2 453.1h0M836.3 444.3h0M836.4 447.8h0M836.4 445.0h0M836.5 448.0h0M836.6 454.2h0M836.7 451.4h0M836.8 450.6h0M836.9 458.2h0M836.9 442.2h0M837.1 447.2h0M837.2 462.0h0M837.2 453.8h0M837.3 453.2h0M837.4 439.7h0M837.4 448.5h0M837.6 466.0h0M837.7 448.4h0M837.7 444.9h0M837.8 439.5h0M837.9 450.6h0M838.0 448.8h0M838.0 452.9h0M838.1 460.8h0M838.2 450.5h0M838.3 451.9h0M838.3 458.9h0M838.4 457.5h0M838.5 444.5h0M838.6 449.5h0M838.7 455.9h0M838.8 446.3h0M838.9 463.6h0M839.0 440.9h0M839.0 467.0h0M839.1 455.8h0M839.2 461.0h0M839.3 452.4h0M839.4 442.3h0M839.4 435.1h0M839.5 452.8h0M839.6 456.0h0M839.7 451.7h0M839.8 452.7h0M839.8 459.3h0M840.0 459.0h0M840.0 441.8h0M840.1 462.1h0M840.2 448.3h0M840.3 456.4h0M840.3 445.5h0M840.4 434.9h0M840.6 447.0h0M840.7 452.7h0M840.7 458.2h0M840.8 440.4h0M840.9 458.1h0M840.9 448.7h0M841.0 452.2h0M841.1 439.5h0M841.2 451.3h0M841.3 467.0h0M841.4 452.5h0M841.5 461.9h0M841.6 454.9h0M841.6 455.0h0M841.7 453.6h0M841.8 464.0h0M841.9 459.2h0M842.0 441.7h0M842.1 445.2h0M842.1 444.1h0M842.2 463.0h0M842.3 452.1h0M842.4 436.3h0M842.5 460.1h0M842.5 449.5h0M842.6 455.1h0M842.7 449.2h0M842.8 442.6h0M842.9 438.7h0M843.0 452.8h0M843.0 465.0h0M843.1 452.8h0M843.2 453.1h0M843.3 459.2h0M843.4 467.0h0M843.4 456.9h0M843.6 463.3h0M843.6 465.3h0M843.7 453.5h0M843.8 438.7h0M843.9 450.9h0M844.0 443.5h0M844.1 452.7h0M844.1 450.5h0M844.2 447.7h0M844.3 452.8h0M844.4 448.5h0M844.4 467.0h0M844.6 440.8h0M844.6 450.7h0M844.7 457.4h0M844.8 454.9h0M844.9 464.5h0M844.9 456.7h0M845.0 450.5h0M845.1 462.0h0M845.2 437.7h0M845.3 453.8h0M845.4 444.5h0M845.5 454.7h0M845.6 447.5h0M845.6 440.0h0M845.7 454.0h0M845.8 456.8h0M845.9 445.3h0M846.0 457.8h0M846.1 466.3h0M846.1 454.8h0M846.2 451.4h0M846.2 454.9h0M846.4 448.1h0M846.4 457.1h0M846.5 462.1h0M846.6 462.6h0M846.7 444.2h0M846.8 456.9h0M846.9 452.1h0M847.0 460.7h0M847.0 453.3h0M847.1 452.3h0M847.2 452.0h0M847.3 454.1h0M847.4 448.0h0M847.4 446.3h0M847.6 453.3h0M847.6 450.3h0M847.7 441.2h0M847.8 435.2h0M847.9 451.6h0M847.9 467.0h0M848.1 447.7h0M848.1 454.1h0M848.2 457.1h0M848.3 442.8h0M848.4 450.9h0M848.4 463.9h0M848.6 452.2h0M848.6 439.4h0M848.7 447.7h0M848.8 449.8h0M848.9 443.4h0M849.0 459.5h0M849.0 450.2h0M849.1 467.0h0M849.2 467.0h0M849.3 457.2h0M849.4 448.9h0M849.4 452.0h0M849.5 457.0h0M849.7 455.4h0M849.7 436.5h0M849.8 446.6h0M849.9 462.1h0M849.9 452.2h0M850.1 451.8h0M850.2 441.3h0M850.3 451.2h0M850.3 442.9h0M850.4 442.5h0M850.5 444.4h0M850.6 458.0h0M850.6 447.1h0M850.7 461.9h0M850.8 447.2h0M850.9 447.8h0M851.0 450.1h0M851.0 442.4h0M851.1 463.1h0M851.2 465.8h0M851.3 437.5h0M851.4 449.2h0M851.4 455.5h0M851.6 443.7h0M851.7 464.1h0M851.7 441.8h0M851.8 458.7h0M851.8 438.8h0M851.9 451.4h0M852.0 455.1h0M852.2 442.8h0M852.2 450.2h0M852.3 463.5h0M852.4 451.1h0M852.5 455.3h0M852.5 438.5h0M852.6 444.8h0M852.7 458.3h0M852.8 447.0h0M852.8 457.7h0M852.9 448.6h0M853.0 449.9h0M853.1 449.9h0M853.2 457.9h0M853.3 460.4h0M853.4 457.0h0M853.4 438.5h0M853.6 457.4h0M853.6 459.1h0M853.7 453.1h0M853.8 448.5h0M853.9 458.5h0M854.0 446.0h0M854.1 456.9h0M854.2 458.2h0M854.2 465.7h0M854.3 447.0h0M854.3 444.5h0M854.5 443.5h0M854.5 457.2h0M854.7 450.6h0M854.7 448.7h0M854.8 435.9h0M854.9 454.0h0M855.0 457.0h0M855.0 445.1h0M855.1 455.7h0M855.2 440.1h0M855.3 461.8h0M855.4 453.4h0M855.5 450.9h0M855.5 446.6h0M855.6 451.9h0M855.7 447.1h0M855.8 448.0h0M855.9 449.4h0M856.0 447.8h0M856.1 450.6h0M856.1 435.8h0M856.2 436.7h0M856.3 454.5h0M856.4 455.8h0M856.4 456.4h0M856.5 449.9h0M856.6 449.8h0M856.7 464.7h0M856.8 448.1h0M856.9 451.4h0M857.0 455.0h0M857.0 436.2h0M857.1 459.1h0M857.2 453.2h0M857.3 440.3h0M857.4 450.9h0M857.5 455.4h0M857.6 464.4h0M857.6 446.6h0M857.7 458.7h0M857.8 447.6h0M857.9 455.6h0M857.9 446.9h0M858.1 437.2h0M858.1 457.7h0M858.2 447.1h0M858.3 440.5h0M858.3 454.6h0M858.5 459.4h0M858.5 454.7h0M858.7 437.9h0M858.7 445.3h0M858.8 447.5h0M858.9 444.8h0M859.0 460.6h0M859.0 463.7h0M859.1 461.3h0M859.3 457.8h0M859.3 447.3h0M859.4 445.6h0M859.5 451.9h0M859.6 452.6h0M859.6 453.7h0M859.7 445.1h0M859.8 446.5h0M859.9 459.2h0M860.0 444.1h0M860.0 463.4h0M860.2 458.0h0M860.2 449.6h0M860.3 447.2h0M860.4 446.5h0M860.4 438.8h0M860.5 453.3h0M860.6 461.2h0M860.7 459.9h0M860.8 464.9h0M860.9 450.2h0M860.9 443.5h0M861.0 460.9h0M861.2 457.9h0M861.2 455.5h0M861.3 447.7h0M861.4 450.0h0M861.4 462.1h0M861.5 441.9h0M861.7 460.7h0M861.8 452.9h0M861.8 461.1h0M861.8 447.2h0M862.0 445.6h0M862.1 452.7h0M862.1 452.5h0M862.2 445.0h0M862.3 458.8h0M862.4 456.4h0M862.5 449.2h0M862.5 451.6h0M862.6 448.8h0M862.7 448.0h0M862.8 443.5h0M862.9 458.9h0M862.9 457.4h0M863.1 448.9h0M863.2 447.1h0M863.2 451.8h0M863.3 457.7h0M863.4 457.1h0M863.4 447.1h0M863.6 452.3h0M863.6 448.1h0M863.7 455.0h0M863.8 455.2h0M863.9 455.4h0M864.0 452.5h0M864.1 450.8h0M864.1 454.0h0M864.2 442.4h0M864.3 451.6h0M864.4 447.5h0M864.4 444.8h0M864.5 457.3h0M864.7 460.1h0M864.7 456.7h0M864.8 454.3h0M864.8 440.6h0M864.9 438.0h0M865.0 439.8h0M865.1 447.2h0M865.2 439.5h0M865.3 438.2h0M865.3 456.0h0M865.5 445.8h0M865.5 456.1h0M865.6 451.1h0M865.7 441.2h0M865.8 455.4h0M865.9 456.1h0M866.0 466.4h0M866.1 448.6h0M866.1 439.7h0M866.2 452.7h0M866.3 449.3h0M866.4 448.9h0M866.5 453.4h0M866.6 449.5h0M866.6 462.7h0M866.7 466.7h0M866.8 461.9h0M866.9 463.2h0M867.0 452.4h0M867.1 438.9h0M867.1 440.1h0M867.2 458.4h0M867.3 447.1h0M867.4 467.1h0M867.5 467.1h0M867.6 466.0h0M867.6 455.8h0M867.7 448.3h0M867.8 453.7h0M867.9 461.8h0M868.0 451.1h0M868.1 445.7h0M868.2 445.6h0M868.2 438.6h0M868.3 462.5h0M868.4 458.9h0M868.5 441.0h0M868.6 444.9h0M868.6 451.7h0M868.7 453.2h0M868.8 443.9h0M868.9 458.1h0M869.0 454.6h0M869.1 460.0h0M869.1 452.1h0M869.2 456.1h0M869.3 442.4h0M869.4 456.9h0M869.4 452.0h0M869.6 450.9h0M869.6 450.3h0M869.7 467.4h0M869.8 460.9h0M869.9 446.2h0M870.0 438.3h0M870.1 452.9h0M870.2 458.1h0M870.2 466.2h0M870.3 457.5h0M870.4 452.8h0M870.5 454.9h0M870.5 447.4h0M870.6 438.4h0M870.7 447.8h0M870.8 467.2h0M870.9 445.7h0M870.9 446.8h0M871.1 446.9h0M871.1 446.9h0M871.2 443.5h0M871.3 445.2h0M871.4 438.1h0M871.5 455.2h0M871.6 452.2h0M871.6 444.8h0M871.7 449.6h0M871.8 450.8h0M871.8 440.0h0M872.0 464.8h0M872.1 466.7h0M872.1 444.0h0M872.2 447.3h0M872.3 452.4h0M872.4 441.8h0M872.5 450.2h0M872.5 461.7h0M872.7 444.6h0M872.7 441.8h0M872.8 464.0h0M872.9 450.0h0M872.9 457.7h0M873.1 460.9h0M873.2 450.4h0M873.2 456.0h0M873.3 459.0h0M873.4 462.9h0M873.5 458.5h0M873.5 454.8h0M873.7 457.3h0M873.7 451.7h0M873.8 454.9h0M873.9 458.8h0M873.9 452.3h0M874.0 460.0h0M874.2 452.3h0M874.3 457.6h0M874.3 458.1h0M874.4 444.3h0M874.5 459.8h0M874.6 462.6h0M874.6 447.3h0M874.7 442.6h0M874.8 460.4h0M874.9 448.7h0M875.0 452.2h0M875.0 464.9h0M875.2 447.1h0M875.3 450.4h0M875.3 453.1h0M875.4 455.7h0M875.5 450.0h0M875.6 446.7h0M875.6 449.6h0M875.8 462.3h0M875.8 448.9h0M875.9 442.2h0M876.0 452.8h0M876.0 447.0h0M876.2 450.6h0M876.3 456.7h0M876.3 443.3h0M876.4 451.9h0M876.4 451.9h0M876.5 455.3h0M876.6 459.2h0M876.7 445.3h0M876.8 448.5h0M876.9 450.9h0M877.0 455.3h0M877.1 450.0h0M877.2 440.6h0M877.3 453.3h0M877.3 457.5h0M877.4 444.6h0M877.4 450.4h0M877.6 443.4h0M877.6 461.6h0M877.7 457.1h0M877.8 454.5h0M877.9 458.0h0M878.0 465.2h0M878.0 451.5h0M878.2 464.9h0M878.2 459.0h0M878.3 450.9h0M878.4 450.8h0M878.4 445.5h0M878.6 456.3h0M878.6 455.0h0M878.7 450.6h0M878.8 450.3h0M878.9 458.5h0M878.9 454.7h0M879.1 449.2h0M879.2 451.9h0M879.2 453.2h0M879.3 446.6h0M879.4 453.4h0M879.5 452.2h0M879.5 444.9h0M879.6 449.6h0M879.8 451.1h0M879.8 459.3h0M879.9 441.0h0M880.0 460.5h0M880.0 456.9h0M880.1 449.4h0M880.2 444.2h0M880.3 456.2h0M880.4 460.0h0M880.4 453.0h0M880.5 445.8h0M880.6 452.5h0M880.7 449.5h0M880.8 448.4h0M880.9 441.2h0M881.0 463.1h0M881.1 448.7h0M881.1 454.1h0M881.3 454.8h0M881.3 450.1h0M881.4 449.9h0M881.4 440.9h0M881.5 440.9h0M881.6 456.5h0M881.8 459.2h0M881.8 450.5h0M881.9 454.4h0M881.9 454.8h0M882.1 445.8h0M882.2 455.6h0M882.2 445.9h0M882.3 460.3h0M882.4 459.0h0M882.4 453.3h0M882.6 454.8h0M882.7 466.6h0M882.7 446.6h0M882.8 443.6h0M882.9 461.8h0M882.9 458.1h0M883.1 453.5h0M883.1 466.5h0M883.2 453.9h0M883.3 466.7h0M883.4 457.1h0M883.4 448.6h0M883.6 462.0h0M883.6 449.8h0M883.7 449.2h0M883.8 450.4h0M883.9 455.2h0M883.9 455.4h0M884.1 460.5h0M884.2 450.7h0M884.2 445.1h0M884.3 460.6h0M884.4 455.5h0M884.5 451.4h0M884.6 447.3h0M884.7 448.5h0M884.8 453.3h0M884.8 457.6h0M884.9 454.6h0M885.0 442.1h0M885.1 460.7h0M885.2 452.3h0M885.2 450.3h0M885.3 453.1h0M885.4 450.4h0M885.5 457.2h0M885.6 450.2h0M885.7 441.5h0M885.7 439.5h0M885.8 465.0h0M885.9 453.8h0M886.0 451.2h0M886.1 447.7h0M886.1 448.8h0M886.2 452.1h0M886.3 452.8h0M886.4 452.1h0M886.5 456.2h0M886.6 444.3h0M886.6 453.3h0M886.7 449.5h0M886.8 450.4h0M886.8 459.6h0M887.0 466.3h0M887.1 454.5h0M887.1 460.2h0M887.2 459.9h0M887.3 466.6h0M887.4 465.4h0M887.5 462.4h0M887.6 459.1h0M887.7 458.1h0M887.7 456.6h0M887.8 458.4h0M887.9 460.5h0M888.0 455.2h0M888.0 452.4h0M888.2 444.9h0M888.2 447.0h0M888.3 444.0h0M888.4 445.3h0M888.5 457.0h0M888.6 438.1h0M888.7 446.2h0M888.7 434.3h0M888.8 435.9h0M888.9 427.0h0M888.9 429.2h0M889.0 423.9h0M889.1 429.2h0M889.2 435.1h0M889.3 417.7h0M889.4 411.6h0M889.4 448.0h0M889.5 430.3h0M889.5 429.0h0M889.6 431.9h0M889.7 438.8h0M889.8 426.2h0M889.9 444.8h0M890.0 418.7h0M890.0 434.6h0M890.1 422.4h0M890.2 410.7h0M890.2 424.2h0M890.3 422.9h0M890.4 420.1h0M890.5 444.2h0M890.6 422.3h0M890.6 432.6h0M890.7 438.9h0M890.8 429.5h0M890.9 447.1h0M890.9 415.9h0M891.0 436.6h0M891.1 430.8h0M891.2 422.8h0M891.2 428.0h0M891.3 424.0h0M891.4 422.0h0M891.5 419.8h0M891.6 427.6h0M891.6 422.3h0M891.7 440.4h0M891.8 431.5h0M891.8 411.0h0M892.0 431.6h0M892.0 431.3h0M892.1 424.2h0M892.2 417.4h0M892.3 438.9h0M892.4 449.8h0M892.4 443.7h0M892.5 449.1h0M892.5 434.1h0M892.7 435.3h0M892.7 416.2h0M892.8 438.5h0M892.8 449.5h0M893.0 417.7h0M893.0 422.7h0M893.1 449.4h0M893.2 446.6h0M893.3 423.9h0M893.3 427.3h0M893.4 433.4h0M893.5 426.1h0M893.6 429.3h0M893.7 424.9h0M893.7 422.2h0M893.8 439.1h0M893.9 432.5h0M893.9 422.5h0M894.1 431.2h0M894.1 436.5h0M894.2 420.9h0M894.3 440.6h0M894.4 443.7h0M894.4 434.5h0M894.5 440.3h0M894.5 432.0h0M894.6 429.0h0M894.7 425.9h0M894.8 433.2h0M894.9 436.2h0M894.9 438.2h0M895.0 433.7h0M895.1 426.4h0M895.2 428.7h0M895.3 412.0h0M895.4 422.4h0M895.4 447.4h0M895.5 444.3h0M895.6 438.8h0M895.6 446.4h0M895.7 427.6h0M895.8 447.7h0M895.9 439.0h0M895.9 434.4h0M896.0 425.0h0M896.1 422.0h0M896.2 423.7h0M896.2 430.4h0M896.4 427.5h0M896.4 429.5h0M896.5 422.9h0M896.6 428.0h0M896.7 426.5h0M896.7 425.3h0M896.8 428.5h0M896.9 411.4h0M897.0 432.5h0M897.0 435.9h0M897.1 435.5h0M897.2 433.0h0M897.3 433.6h0M897.4 434.5h0M897.4 438.7h0M897.5 426.0h0M897.5 436.3h0M897.6 427.4h0M897.7 440.3h0M897.8 426.0h0M897.9 433.5h0M897.9 447.6h0M898.1 422.9h0M898.1 431.5h0M898.2 422.2h0M898.3 434.5h0M898.3 425.5h0M898.4 433.7h0M898.5 423.7h0M898.6 424.9h0M898.7 428.3h0M898.7 424.4h0M898.8 435.0h0M898.9 428.2h0M899.0 411.7h0M899.0 419.6h0M899.1 436.0h0M899.2 440.9h0M899.3 440.6h0M899.4 420.2h0M899.5 426.8h0M899.5 448.3h0M899.5 433.5h0M899.6 427.2h0M899.7 423.3h0M899.8 448.4h0M899.9 410.7h0M900.0 426.0h0M900.0 424.6h0M900.1 429.2h0M900.2 414.3h0M900.3 420.4h0M900.4 431.0h0M900.5 433.3h0M900.5 436.0h0M900.6 443.5h0M900.6 421.6h0M900.7 438.7h0M900.8 428.9h0M900.9 415.9h0M901.0 430.1h0M901.0 428.4h0M901.1 426.1h0M901.2 415.9h0M901.3 431.4h0M901.3 422.8h0M901.5 432.5h0M901.5 439.6h0M901.6 431.6h0M901.6 445.8h0M901.7 430.4h0M901.8 424.7h0M901.9 429.6h0M901.9 432.5h0M902.0 426.4h0M902.1 431.8h0M902.2 421.7h0M902.3 425.6h0M902.3 435.1h0M902.4 440.1h0M902.5 435.0h0M902.6 438.0h0M902.7 437.2h0M902.7 417.9h0M902.8 436.4h0M902.9 428.7h0M902.9 429.4h0M903.0 448.4h0M903.1 439.4h0M903.2 420.8h0M903.2 414.6h0M903.3 426.7h0M903.4 436.2h0M903.5 430.3h0M903.5 431.1h0M903.7 437.8h0M903.8 435.0h0M903.8 430.8h0M903.9 435.5h0M904.0 437.4h0M904.0 420.5h0M904.1 435.8h0M904.2 435.3h0M904.2 433.2h0M904.4 427.7h0M904.4 423.0h0M904.5 424.0h0M904.6 439.8h0M904.7 427.3h0M904.7 429.0h0M904.8 418.6h0M904.9 440.4h0M905.0 431.5h0M905.0 426.1h0M905.1 425.6h0M905.2 413.3h0M905.3 442.0h0M905.4 437.9h0M905.4 434.6h0M905.5 441.9h0M905.6 430.5h0M905.7 437.4h0M905.7 429.7h0M905.8 427.7h0M905.9 426.6h0M906.0 443.1h0M906.1 435.2h0M906.1 426.3h0M906.2 429.6h0M906.3 435.4h0M906.4 436.9h0M906.5 416.8h0M906.5 426.9h0M906.6 437.5h0M906.6 426.8h0M906.7 427.3h0M906.8 442.4h0M906.9 447.3h0M907.0 431.3h0M907.0 434.2h0M907.1 420.3h0M907.2 440.9h0M907.3 432.5h0M907.3 431.9h0M907.4 429.6h0M907.5 443.3h0M907.6 415.5h0M907.7 431.8h0M907.7 412.5h0M907.8 436.5h0M907.9 437.6h0M908.0 435.8h0M908.0 446.8h0M908.2 435.5h0M908.2 417.5h0M908.3 432.3h0M908.3 429.7h0M908.4 414.3h0M908.5 426.5h0M908.6 432.0h0M908.6 426.0h0M908.7 444.2h0M908.8 434.3h0M908.9 431.8h0M909.0 432.2h0M909.1 434.2h0M909.1 427.1h0M909.2 433.3h0M909.3 434.5h0M909.4 434.0h0M909.5 437.5h0M909.5 423.9h0M909.6 427.1h0M909.7 438.8h0M909.8 433.3h0M909.9 433.6h0M909.9 432.5h0M910.0 422.2h0M910.0 413.1h0M910.1 434.5h0M910.2 427.2h0M910.3 434.2h0M910.3 432.9h0M910.5 437.7h0M910.5 428.4h0M910.6 428.9h0M910.7 445.6h0M910.7 417.1h0M910.8 432.3h0M910.9 423.4h0M911.0 424.5h0M911.0 436.0h0M911.1 436.8h0M911.2 424.8h0M911.3 429.7h0M911.4 423.2h0M911.5 443.0h0M911.5 428.7h0M911.6 429.2h0M911.7 441.7h0M911.8 436.4h0M911.8 437.2h0M911.9 420.4h0M912.0 442.7h0M912.1 442.1h0M912.1 444.5h0M912.2 427.9h0M912.3 427.2h0M912.4 422.0h0M912.5 431.4h0M912.5 433.2h0M912.6 424.9h0M912.6 435.2h0M912.7 433.6h0M912.8 429.5h0M912.9 432.3h0M913.0 432.0h0M913.0 437.9h0M913.2 435.9h0M913.2 426.8h0M913.3 412.6h0M913.4 432.2h0M913.4 436.6h0M913.5 420.8h0M913.6 433.6h0M913.7 419.6h0M913.7 437.9h0M913.8 419.9h0M913.9 414.4h0M914.0 444.9h0M914.0 430.5h0M914.1 427.3h0M914.2 426.6h0M914.3 419.4h0M914.4 434.9h0M914.4 414.4h0M914.5 427.8h0M914.6 412.6h0M914.7 437.5h0M914.7 427.7h0M914.8 433.4h0M914.9 425.6h0M915.0 427.4h0M915.1 422.4h0M915.1 425.6h0M915.2 423.6h0M915.3 413.3h0M915.3 422.0h0M915.5 413.6h0M915.5 423.0h0M915.6 433.1h0M915.6 424.9h0M915.7 443.0h0M915.9 416.2h0M915.9 438.0h0M916.0 422.9h0M916.1 430.6h0M916.1 418.6h0M916.2 425.9h0M916.3 436.6h0M916.4 428.2h0M916.4 427.9h0M916.5 427.4h0M916.6 420.8h0M916.7 433.0h0M916.8 438.3h0M916.8 415.2h0M916.9 420.1h0M917.0 425.7h0M917.1 420.6h0M917.2 444.6h0M917.2 434.5h0M917.3 442.0h0M917.4 434.3h0M917.4 415.2h0M917.6 430.8h0M917.6 428.3h0M917.7 420.9h0M917.7 417.1h0M917.8 434.3h0M917.9 428.4h0M918.0 431.3h0M918.0 421.9h0M918.1 427.5h0M918.2 437.9h0M918.3 425.9h0M918.4 431.5h0M918.4 439.1h0M918.5 440.2h0M918.6 433.9h0M918.7 422.0h0M918.7 435.2h0M918.8 423.7h0M918.9 431.0h0M919.0 444.8h0M919.1 428.5h0M919.1 414.0h0M919.2 413.1h0M919.3 424.4h0M919.4 438.7h0M919.5 432.6h0M919.5 426.3h0M919.6 430.9h0M919.7 416.3h0M919.7 438.5h0M919.8 424.0h0M919.9 442.2h0M920.0 440.6h0M920.0 423.3h0M920.1 437.1h0M920.2 434.5h0M920.3 422.8h0M920.4 421.4h0M920.4 420.1h0M920.5 415.8h0M920.6 418.0h0M920.7 421.5h0M920.8 433.5h0M920.8 426.7h0M920.9 436.0h0M921.0 427.3h0M921.0 426.3h0M921.1 429.8h0M921.2 423.3h0M921.3 426.8h0M921.4 442.6h0M921.5 438.8h0M921.6 424.4h0M921.6 436.6h0M921.7 423.8h0M921.8 433.7h0M921.8 421.3h0M921.9 428.4h0M922.0 416.1h0M922.0 432.4h0M922.1 429.7h0M922.2 425.1h0M922.3 424.9h0M922.3 417.8h0M922.5 419.7h0M922.5 437.5h0M922.6 426.9h0M922.7 430.8h0M922.8 445.0h0M922.9 430.7h0M922.9 433.1h0M923.0 427.9h0M923.1 425.1h0M923.2 437.5h0M923.2 430.1h0M923.3 411.4h0M923.4 433.6h0M923.4 411.4h0M923.6 441.0h0M923.6 423.6h0M923.7 426.3h0M923.7 427.9h0M923.9 427.4h0M923.9 427.2h0M924.0 428.1h0M924.1 422.6h0M924.2 418.2h0M924.2 444.8h0M924.3 422.7h0M924.4 424.7h0M924.4 436.0h0M924.6 432.2h0M924.6 413.3h0M924.7 425.3h0M924.8 421.1h0M924.8 424.3h0M924.9 424.9h0M925.0 425.1h0M925.0 444.7h0M925.2 428.4h0M925.2 423.3h0M925.3 437.8h0M925.4 421.9h0M925.5 441.0h0M925.5 436.0h0M925.6 441.5h0M925.7 439.7h0M925.8 427.6h0M925.8 442.2h0M925.9 414.4h0M926.0 428.8h0M926.1 426.8h0M926.2 436.4h0M926.3 437.3h0M926.3 428.1h0M926.4 428.7h0M926.5 418.8h0M926.5 437.5h0M926.6 425.2h0M926.7 436.2h0M926.7 438.5h0M926.9 414.6h0M926.9 424.7h0M927.0 423.6h0M927.1 432.8h0M927.1 424.6h0M927.3 428.8h0M927.3 437.6h0M927.4 430.3h0M927.5 427.2h0M927.6 420.5h0M927.6 438.5h0M927.7 440.1h0M927.7 420.6h0M927.8 428.3h0M928.0 413.6h0M928.0 430.7h0M928.1 431.6h0M928.2 444.4h0M928.3 429.9h0M928.3 416.5h0M928.4 424.7h0M928.5 429.7h0M928.6 422.6h0M928.6 415.6h0M928.7 438.1h0M928.8 412.3h0M928.8 424.2h0M928.9 418.6h0M929.0 434.9h0M929.1 436.0h0M929.1 421.3h0M929.2 436.8h0M929.3 438.2h0M929.4 444.1h0M929.5 433.6h0M929.5 428.3h0M929.6 420.7h0M929.7 436.2h0M929.7 430.2h0M929.8 433.3h0M929.9 412.5h0M930.0 420.9h0M930.1 440.9h0M930.2 425.3h0M930.3 425.2h0M930.3 421.9h0M930.4 435.7h0M930.5 428.0h0M930.5 440.5h0M930.6 430.0h0M930.7 441.8h0M930.8 440.8h0M930.9 446.3h0M930.9 417.2h0M931.0 432.4h0M931.1 429.6h0M931.2 425.2h0M931.2 440.3h0M931.3 439.4h0M931.4 422.8h0M931.4 431.4h0M931.6 435.2h0M931.6 436.3h0M931.7 426.9h0M931.8 419.4h0M931.8 447.1h0M931.9 445.5h0M932.0 437.0h0M932.0 429.8h0M932.1 422.7h0M932.2 418.0h0M932.3 412.5h0M932.4 420.4h0M932.4 420.6h0M932.6 421.7h0M932.6 427.3h0M932.7 433.5h0M932.7 434.3h0M932.9 431.7h0M932.9 424.7h0M933.0 421.0h0M933.1 426.4h0M933.1 439.1h0M933.2 433.4h0M933.3 430.8h0M933.4 447.3h0M933.4 420.7h0M933.5 431.2h0M933.6 432.3h0M933.7 443.6h0M933.8 411.9h0M933.9 429.4h0M933.9 433.3h0M934.0 431.4h0M934.0 423.8h0M934.1 421.7h0M934.2 436.3h0M934.3 426.9h0M934.4 420.3h0M934.5 447.7h0M934.5 431.1h0M934.6 432.1h0M934.7 426.3h0M934.8 425.1h0M934.8 421.0h0M934.9 429.2h0M935.0 427.2h0M935.1 418.3h0M935.2 416.6h0M935.2 435.3h0M935.3 436.3h0M935.4 429.6h0M935.4 442.0h0M935.6 437.1h0M935.6 428.0h0M935.7 443.7h0M935.8 425.5h0M935.8 419.9h0M935.9 411.0h0M936.0 421.4h0M936.1 418.1h0M936.1 429.2h0M936.2 411.7h0M936.3 429.8h0M936.4 433.6h0M936.4 419.2h0M936.5 439.6h0M936.6 439.9h0M936.7 432.2h0M936.8 428.8h0M936.9 435.8h0M936.9 434.9h0M937.0 427.7h0M937.1 420.3h0M937.1 427.4h0M937.3 421.6h0M937.3 433.5h0M937.4 429.3h0M937.5 425.5h0M937.6 424.9h0M937.6 436.4h0M937.7 435.5h0M937.7 438.0h0M937.9 431.6h0M938.0 420.2h0M938.0 447.8h0M938.1 410.5h0M938.2 415.5h0M938.3 423.2h0M938.3 426.5h0M938.4 424.1h0M938.5 437.2h0M938.6 430.4h0M938.6 436.9h0M938.7 416.4h0M938.8 436.2h0M938.9 426.3h0M938.9 445.7h0M939.0 421.6h0M939.1 428.2h0M939.2 423.2h0M939.2 434.7h0M939.3 433.7h0M939.4 418.7h0M939.4 420.1h0M939.5 431.7h0M939.6 429.4h0M939.7 412.9h0M939.8 431.9h0M939.9 414.8h0M939.9 426.1h0M940.0 421.5h0M940.1 447.5h0M940.2 433.9h0M940.3 446.2h0M940.3 425.0h0M940.4 442.4h0M940.5 439.8h0M940.5 423.4h0M940.6 434.4h0M940.7 443.9h0M940.8 417.0h0M940.9 421.2h0M941.0 432.8h0M941.0 433.1h0M941.1 435.4h0M941.2 419.3h0M941.3 445.4h0M941.3 434.7h0M941.4 444.4h0M941.4 437.3h0M941.5 422.6h0M941.6 428.6h0M941.7 430.6h0M941.8 438.1h0M941.9 429.3h0M941.9 422.8h0M942.0 416.3h0M942.1 422.5h0M942.1 416.7h0M942.2 441.7h0M942.3 411.8h0M942.4 421.0h0M942.4 424.7h0M942.5 420.5h0M942.6 418.2h0M942.7 430.5h0M942.8 436.7h0M942.8 432.5h0M943.0 425.8h0M943.0 433.1h0M943.1 422.9h0M943.2 445.4h0M943.3 432.6h0M943.3 430.4h0M943.4 417.7h0M943.4 423.5h0M943.6 433.3h0M943.7 435.2h0M943.7 418.3h0M943.8 434.4h0M943.9 433.1h0M943.9 432.7h0M944.0 428.3h0M944.1 432.7h0M944.1 428.5h0M944.2 418.0h0M944.3 433.1h0M944.4 410.2h0M944.5 425.6h0M944.6 419.2h0M944.7 428.7h0M944.7 434.8h0M944.8 422.1h0M944.9 421.1h0M731.3 456.4h0M758.6 429.3h0M758.3 446.2h0M755.4 451.2h0M746.0 476.4h0M762.2 460.4h0M768.7 442.4h0M806.4 441.9h0M819.8 454.0h0M830.5 434.1h0M840.2 432.8h0M872.0 435.2h0M850.5 468.1h0M889.7 407.2h0M900.5 405.4h0M907.8 407.6h0M945.0 407.6h0M924.6 452.4h0M923.5 475.2h0M488.7 498.4h0M563.5 498.2h0M565.5 498.6h0M564.5 498.4h0" stroke="#339933" stroke-width="6.4" stroke-linecap="round" fill="none"/>
<line x1="141.5" x2="766" y1="118.4" y2="118.4" stroke="#807dba" stroke-width="6.8" stroke-linecap="round"/>
<line x1="766.4" x2="945.5" y1="118.4" y2="118.4" stroke="#660066" stroke-width="6.8" stroke-linecap="round"/>
<rect x="106.0" y="112.0" width="867.0" height="391.0" fill="none" stroke="#000" stroke-width="2" stroke-linejoin="miter"/>
<g stroke="#000">
<line x1="106" x2="106" y1="503.0" y2="513.0" stroke-width="2"/>
<line x1="120" x2="120" y1="503.0" y2="508.9" stroke-width="1.8"/>
<line x1="134" x2="134" y1="503.0" y2="508.9" stroke-width="1.8"/>
<line x1="148" x2="148" y1="503.0" y2="508.9" stroke-width="1.8"/>
<line x1="162" x2="162" y1="503.0" y2="508.9" stroke-width="1.8"/>
<line x1="176" x2="176" y1="503.0" y2="508.9" stroke-width="1.8"/>
<line x1="189" x2="189" y1="503.0" y2="508.9" stroke-width="1.8"/>
<line x1="203" x2="203" y1="503.0" y2="508.9" stroke-width="1.8"/>
<line x1="217" x2="217" y1="503.0" y2="513.0" stroke-width="2"/>
<line x1="231" x2="231" y1="503.0" y2="508.9" stroke-width="1.8"/>
<line x1="245" x2="245" y1="503.0" y2="508.9" stroke-width="1.8"/>
<line x1="259" x2="259" y1="503.0" y2="508.9" stroke-width="1.8"/>
<line x1="273" x2="273" y1="503.0" y2="508.9" stroke-width="1.8"/>
<line x1="286" x2="286" y1="503.0" y2="508.9" stroke-width="1.8"/>
<line x1="300" x2="300" y1="503.0" y2="508.9" stroke-width="1.8"/>
<line x1="314" x2="314" y1="503.0" y2="508.9" stroke-width="1.8"/>
<line x1="328" x2="328" y1="503.0" y2="513.0" stroke-width="2"/>
<line x1="342" x2="342" y1="503.0" y2="508.9" stroke-width="1.8"/>
<line x1="356" x2="356" y1="503.0" y2="508.9" stroke-width="1.8"/>
<line x1="369" x2="369" y1="503.0" y2="508.9" stroke-width="1.8"/>
<line x1="383" x2="383" y1="503.0" y2="508.9" stroke-width="1.8"/>
<line x1="397" x2="397" y1="503.0" y2="508.9" stroke-width="1.8"/>
<line x1="411" x2="411" y1="503.0" y2="508.9" stroke-width="1.8"/>
<line x1="425" x2="425" y1="503.0" y2="508.9" stroke-width="1.8"/>
<line x1="439" x2="439" y1="503.0" y2="513.0" stroke-width="2"/>
<line x1="452" x2="452" y1="503.0" y2="508.9" stroke-width="1.8"/>
<line x1="466" x2="466" y1="503.0" y2="508.9" stroke-width="1.8"/>
<line x1="480" x2="480" y1="503.0" y2="508.9" stroke-width="1.8"/>
<line x1="494" x2="494" y1="503.0" y2="508.9" stroke-width="1.8"/>
<line x1="508" x2="508" y1="503.0" y2="508.9" stroke-width="1.8"/>
<line x1="522" x2="522" y1="503.0" y2="508.9" stroke-width="1.8"/>
<line x1="535" x2="535" y1="503.0" y2="508.9" stroke-width="1.8"/>
<line x1="549" x2="549" y1="503.0" y2="513.0" stroke-width="2"/>
<line x1="563" x2="563" y1="503.0" y2="508.9" stroke-width="1.8"/>
<line x1="577" x2="577" y1="503.0" y2="508.9" stroke-width="1.8"/>
<line x1="591" x2="591" y1="503.0" y2="508.9" stroke-width="1.8"/>
<line x1="605" x2="605" y1="503.0" y2="508.9" stroke-width="1.8"/>
<line x1="619" x2="619" y1="503.0" y2="508.9" stroke-width="1.8"/>
<line x1="632" x2="632" y1="503.0" y2="508.9" stroke-width="1.8"/>
<line x1="646" x2="646" y1="503.0" y2="508.9" stroke-width="1.8"/>
<line x1="660" x2="660" y1="503.0" y2="513.0" stroke-width="2"/>
<line x1="674" x2="674" y1="503.0" y2="508.9" stroke-width="1.8"/>
<line x1="688" x2="688" y1="503.0" y2="508.9" stroke-width="1.8"/>
<line x1="702" x2="702" y1="503.0" y2="508.9" stroke-width="1.8"/>
<line x1="716" x2="716" y1="503.0" y2="508.9" stroke-width="1.8"/>
<line x1="729" x2="729" y1="503.0" y2="508.9" stroke-width="1.8"/>
<line x1="743" x2="743" y1="503.0" y2="508.9" stroke-width="1.8"/>
<line x1="757" x2="757" y1="503.0" y2="508.9" stroke-width="1.8"/>
<line x1="771" x2="771" y1="503.0" y2="513.0" stroke-width="2"/>
<line x1="785" x2="785" y1="503.0" y2="508.9" stroke-width="1.8"/>
<line x1="799" x2="799" y1="503.0" y2="508.9" stroke-width="1.8"/>
<line x1="812" x2="812" y1="503.0" y2="508.9" stroke-width="1.8"/>
<line x1="826" x2="826" y1="503.0" y2="508.9" stroke-width="1.8"/>
<line x1="840" x2="840" y1="503.0" y2="508.9" stroke-width="1.8"/>
<line x1="854" x2="854" y1="503.0" y2="508.9" stroke-width="1.8"/>
<line x1="868" x2="868" y1="503.0" y2="508.9" stroke-width="1.8"/>
<line x1="882" x2="882" y1="503.0" y2="513.0" stroke-width="2"/>
<line x1="895" x2="895" y1="503.0" y2="508.9" stroke-width="1.8"/>
<line x1="909" x2="909" y1="503.0" y2="508.9" stroke-width="1.8"/>
<line x1="923" x2="923" y1="503.0" y2="508.9" stroke-width="1.8"/>
<line x1="937" x2="937" y1="503.0" y2="508.9" stroke-width="1.8"/>
<line x1="951" x2="951" y1="503.0" y2="508.9" stroke-width="1.8"/>
<line x1="965" x2="965" y1="503.0" y2="508.9" stroke-width="1.8"/>
<line x1="96.0" x2="106.0" y1="498.0" y2="498.0" stroke-width="2"/>
<line x1="96.0" x2="106.0" y1="423.0" y2="423.0" stroke-width="2"/>
<line x1="96.0" x2="106.0" y1="349.0" y2="349.0" stroke-width="2"/>
<line x1="96.0" x2="106.0" y1="274.0" y2="274.0" stroke-width="2"/>
<line x1="96.0" x2="106.0" y1="199.0" y2="199.0" stroke-width="2"/>
<line x1="96.0" x2="106.0" y1="125.0" y2="125.0" stroke-width="2"/>
</g>
<g font-family="DejaVu Sans, Liberation Sans, sans-serif" fill="#000">
<g font-size="25px" text-anchor="middle" letter-spacing="-0.5">
<text x="106.5" y="541.3">1996</text>
<text x="217.3" y="541.3">2000</text>
<text x="328.0" y="541.3">2004</text>
<text x="438.8" y="541.3">2008</text>
<text x="549.5" y="541.3">2012</text>
<text x="660.2" y="541.3">2016</text>
<text x="771.0" y="541.3">2020</text>
<text x="881.7" y="541.3">2024</text>
<text x="540.2" y="575.5" letter-spacing="0">Year</text>
</g>
<g font-size="25px" text-anchor="end" letter-spacing="-1.1">
<text x="86.8" y="506.6">0</text>
<text x="85.6" y="432.5">10</text>
<text x="85.6" y="357.4">20</text>
<text x="85.6" y="282.4">30</text>
<text x="84.7" y="208.3">40</text>
<text x="85.6" y="133.5">50</text>
</g>
<text font-size="25px" text-anchor="middle" transform="translate(38.6,314.5) rotate(-90)">Cycle Slipsx1000/nr. Obs</text>
<text font-size="30.62px" font-weight="bold" text-anchor="middle" x="540.3" y="43.4">Number of Galileo Cycle Slips</text>
<text font-size="27.78px" text-anchor="middle" x="540.4" y="82.6">TORI00ITA - ROB-EUREF data node</text>
<text font-size="23.15px" transform="translate(955,376.8) rotate(90) scale(0.8,1)">Now</text>
<rect x="20.8" y="598.8" width="949.6" height="43.8" rx="5" ry="5" fill="#fff" stroke="#d6d6d6" stroke-width="3"/>
<circle cx="43.3" cy="618.3" r="4.5" fill="#339933"/>
<text font-size="25px" letter-spacing="-0.25" x="57.7" y="625.8">GAL</text>
<circle cx="284.5" cy="618.3" r="4.5" fill="#807dba"/>
<text font-size="25px" letter-spacing="-0.25" x="300.0" y="625.8">RINEX2</text>
<circle cx="568.5" cy="618.3" r="4.5" fill="#660066"/>
<text font-size="25px" letter-spacing="-0.25" x="584.0" y="625.8">RINEX3</text>
<circle cx="852.5" cy="618.3" r="4.5" fill="#1a001a"/>
<text font-size="25px" letter-spacing="-0.25" x="868.3" y="625.8">RINEX4</text>
<text font-size="19.44px" font-style="oblique" x="20" y="674.8">Thu Apr 16 14:22:53 2026</text>
<text font-size="19.44px" font-style="oblique" text-anchor="end" x="965" y="674.8">©GNSS@ROB</text>
</g>
</svg>
</body></html>
